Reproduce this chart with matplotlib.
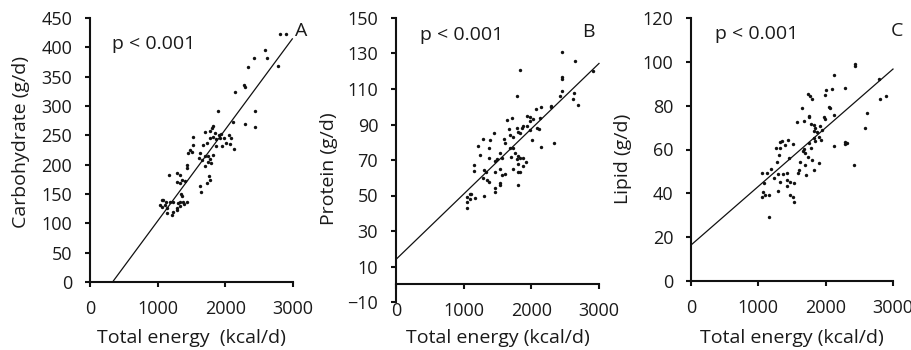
import matplotlib
matplotlib.use("Agg")
import matplotlib.pyplot as plt
import numpy as np

plt.rcParams['font.family'] = ['Open Sans', 'DejaVu Sans']

# panel A: carbohydrate vs total energy
carb_energy = [2804, 2892, 2582, 2622, 2420, 2336, 2779, 2140, 2277, 2287, 1894, 2435,
               2297, 2435, 2115, 2125, 1820, 1810, 1780, 1845, 1697, 1909, 1943, 1820,
               1771, 1869, 1918, 1977, 2056, 2090, 2066, 2007, 1958, 1860, 1722, 1672,
               1525, 1525, 1476, 1451, 1500, 1623, 1613, 1697, 1746, 1820, 1657, 1746,
               1795, 1697, 1771, 1427, 1436, 1761, 1771, 1722, 1623, 1638, 1353, 1402,
               1166, 1279, 1328, 1289, 1328, 1343, 1353, 1058, 1082, 1117, 1181, 1230,
               1304, 1328, 1368, 1427, 1033, 1107, 1058, 1132, 1279, 1279, 1132, 1205,
               1230, 1328, 1387]
carb = [423, 423, 395, 382, 382, 366, 369, 324, 336, 332, 291, 291,
        270, 265, 272, 227, 266, 262, 257, 254, 255, 251, 252, 248,
        245, 243, 245, 245, 251, 245, 235, 237, 231, 232, 237, 234,
        247, 234, 225, 220, 221, 220, 211, 214, 214, 217, 208, 205,
        203, 197, 210, 200, 194, 180, 174, 168, 163, 154, 174, 173,
        183, 185, 183, 170, 168, 150, 146, 140, 140, 137, 137, 137,
        134, 136, 137, 137, 131, 131, 127, 126, 126, 123, 117, 115,
        120, 129, 133]

# panel B: protein vs total energy
prot_energy = [2450, 2646, 2917, 1835, 2450, 2450, 2450, 2425, 2632, 2612, 2686, 1782,
               2287, 2287, 2140, 2066, 2130, 1933, 1982, 2032, 1982, 2081, 2120, 1884,
               1933, 1982, 2007, 2140, 2342, 1638, 1712, 1786, 1810, 1860, 1835, 1687,
               1613, 1589, 1736, 1663, 1441, 1284, 1210, 1392, 1367, 1240, 1540, 1490,
               1564, 1377, 1456, 1687, 1727, 1697, 1761, 1810, 1835, 1870, 1786, 1796,
               1736, 1835, 1810, 1884, 1923, 1294, 1333, 1156, 1156, 1540, 1466, 1343,
               1284, 1613, 1564, 1530, 1540, 1367, 1466, 1466, 1294, 1087, 1107, 1048,
               1171, 1087, 1048, 1048, 1810]
prot = [131, 125.6, 120, 120.5, 116.7, 115.6, 109, 106, 108, 104.5, 101, 106,
        100.6, 99.8, 100, 99, 93.6, 95, 94.5, 93, 91.7, 88, 87.4, 89,
        89, 87, 81.4, 77.6, 79.5, 92.3, 93.6, 88, 86, 88, 85, 84,
        79.5, 82, 83, 87.4, 85, 82, 78, 81, 77, 73, 74, 70.5,
        71, 71, 69.7, 77, 77, 71.6, 74, 72, 71.4, 71.4, 70.5, 68,
        65, 63.5, 63, 66.7, 69, 64.5, 63.5, 67, 64, 65, 63, 59,
        60, 62, 61.6, 57, 56, 57.5, 54, 51.7, 50, 51, 51, 49,
        48.5, 48, 46.6, 43, 56]

# panel C: lipid vs total energy
lip_energy = [2441, 2441, 2119, 2787, 2094, 2292, 2010, 1995, 1733, 1762, 1797, 2802,
              2896, 2614, 2129, 2045, 2059, 1649, 1574, 1683, 1748, 1757, 1970, 1995,
              2589, 1822, 1782, 1921, 1847, 1822, 1871, 1946, 1896, 1822, 1936, 2119,
              2282, 2317, 2292, 1837, 1748, 1782, 1683, 1663, 1698, 1733, 1797, 1896,
              1624, 1698, 1609, 1589, 1822, 1713, 2426, 1515, 1450, 1322, 1356, 1391,
              1267, 1317, 1436, 1302, 1277, 1426, 1193, 1129, 1054, 1228, 1287, 1361,
              1426, 1465, 1089, 1327, 1535, 1287, 1426, 1475, 1515, 1069, 1054, 1104,
              1153, 1525, 1163]
lip = [99.1, 97.9, 94.1, 92.3, 87.6, 88, 87.3, 85, 85.3, 84.5, 83, 83,
       84.2, 76.6, 75.8, 79.3, 78.9, 78.9, 72.5, 72.8, 75.4, 74.8, 75, 74,
       69.7, 71.3, 71.7, 70.8, 69.7, 68.5, 68.2, 68.7, 65.6, 65.2, 64.4, 61.4,
       63.3, 62.9, 62.6, 63.7, 62.9, 60.6, 60.3, 59.5, 58.3, 56.8, 55.3, 53.8,
       54.2, 53, 50.7, 49.5, 50.7, 48.4, 53, 62.4, 56.3, 63.2, 64, 62.1,
       60.6, 60.6, 64.4, 57.6, 54.5, 49.5, 51, 49.2, 49.5, 46.9, 48.9, 48.7,
       46.1, 45.1, 44.9, 45.1, 44.6, 41.1, 43.4, 39.3, 38.5, 40.8, 38.5, 39.3,
       39.3, 36.2, 29.4]

# fitted lines (intercept, slope, x range)
fit_A = (-52, 0.156, 333, 2990)
fit_B = (14, 0.0368, 0, 3000)
fit_C = (16.4, 0.02677, 0, 3000)

ylabels = ['Carbohydrate (g/d)', 'Protein (g/d)', 'Lipid (g/d)']
xlabels = ['Total energy  (kcal/d)', 'Total energy (kcal/d)', 'Total energy (kcal/d)']
letters = ['A', 'B', 'C']

txt = '#1a1a1a'
fig = plt.figure(figsize=(9.12, 3.5), dpi=100)
positions = [[90/912, 68/350, 203/912, 264/350],
             [396/912, 48/350, 203/912, 284/350],
             [691/912, 69/350, 202/912, 263/350]]
axes = [fig.add_axes(p) for p in positions]

panels = [(carb_energy, carb, fit_A, (0, 450), np.arange(0, 451, 50)),
          (prot_energy, prot, fit_B, (-10, 150), np.arange(-10, 151, 20)),
          (lip_energy, lip, fit_C, (0, 120), np.arange(0, 121, 20))]

for i, (ax, (ex, val, fit, ylim, yt)) in enumerate(zip(axes, panels)):
    ax.scatter(ex, val, s=6, color='#111111', linewidths=0, clip_on=False, zorder=3)
    b0, b1, x0, x1 = fit
    lx = np.array([x0, x1])
    ax.plot(lx, b0 + b1 * lx, color='#111111', lw=0.9, clip_on=False)
    ax.set_xlim(0, 3000)
    ax.set_ylim(*ylim)
    ax.set_xticks([0, 1000, 2000, 3000])
    ax.set_yticks(yt)
    for s in ['top', 'right']:
        ax.spines[s].set_visible(False)
    for s in ['left', 'bottom']:
        ax.spines[s].set_linewidth(1.5)
        ax.spines[s].set_color('#111111')
    if i == 1:
        ax.spines['bottom'].set_position(('data', 0))
    ax.tick_params(direction='out', length=3.8, width=1.5, color='#111111',
                   labelsize=13, labelcolor=txt, pad=9)
    ax.set_xlabel(xlabels[i], fontsize=14, color=txt, va='center')
    ax.set_ylabel(ylabels[i], fontsize=14, color=txt, va='center')
    ax.text(0.11 if i == 0 else 0.12, 0.90 if i == 0 else 0.94, 'p < 0.001',
            transform=ax.transAxes, fontsize=14, color=txt, va='center')
    ax.text([1.04, 0.95, 1.02][i], 0.95, letters[i], transform=ax.transAxes,
            fontsize=14, color=txt, ha='center', va='center')

axes[0].yaxis.set_label_coords(-0.34, 0.53)
axes[1].yaxis.set_label_coords(-0.33, 0.47)
axes[2].yaxis.set_label_coords(-0.337, 0.465)
axes[0].xaxis.set_label_coords(0.5, -0.212)
axes[1].xaxis.set_label_coords(0.5, -0.127)
axes[2].xaxis.set_label_coords(0.5, -0.217)

fig.savefig('out.png', dpi=100)
